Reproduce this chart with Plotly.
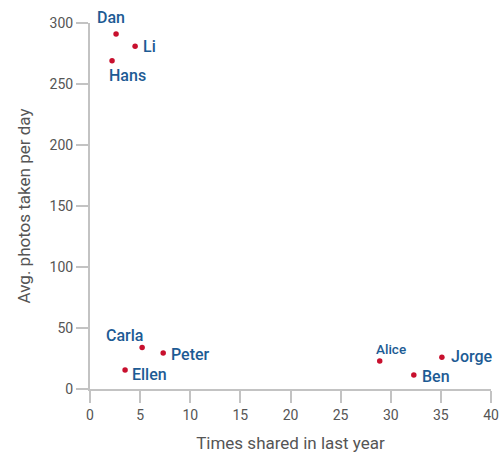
import plotly.graph_objects as go

names = ["Dan", "Li", "Hans", "Carla", "Peter", "Ellen", "Alice", "Jorge", "Ben"]
shared = [2.6, 4.5, 2.2, 5.2, 7.3, 3.5, 28.9, 35.1, 32.3]
photos = [291, 281, 269, 34, 29.5, 15.6, 23, 26, 11.5]
x_ticks = [0, 5, 10, 15, 20, 25, 30, 35, 40]
y_ticks = [0, 50, 100, 150, 200, 250, 300]

# label placement (pixel offsets, anchor, size)
label_pos = {
    "Dan": dict(xanchor="center", yanchor="middle", xshift=-5, yshift=16, size=16),
    "Li": dict(xanchor="left", yanchor="middle", xshift=6, yshift=0, size=16),
    "Hans": dict(xanchor="center", yanchor="middle", xshift=15, yshift=-15, size=16),
    "Carla": dict(xanchor="center", yanchor="middle", xshift=-18, yshift=12, size=16),
    "Peter": dict(xanchor="left", yanchor="middle", xshift=6, yshift=-1, size=16),
    "Ellen": dict(xanchor="left", yanchor="middle", xshift=5, yshift=-5, size=16),
    "Alice": dict(xanchor="center", yanchor="middle", xshift=11, yshift=12, size=13.5),
    "Jorge": dict(xanchor="left", yanchor="middle", xshift=7, yshift=1, size=16),
    "Ben": dict(xanchor="left", yanchor="middle", xshift=6, yshift=-2, size=16),
}

label_color = "#1d5b94"
dot_color = "#c8102e"
axis_color = "#c3c3c3"
tick_font_color = "#555555"
FONT = "Roboto"

fig = go.Figure()
fig.add_trace(go.Scatter(
    x=shared, y=photos, mode="markers",
    marker=dict(color=dot_color, size=5.5),
    cliponaxis=False, hoverinfo="text", text=names,
))

for n, x, y in zip(names, shared, photos):
    p = label_pos[n]
    fig.add_annotation(
        x=x, y=y, text=n, showarrow=False,
        xanchor=p["xanchor"], yanchor=p["yanchor"],
        xshift=p["xshift"], yshift=p["yshift"],
        font=dict(family=FONT, size=p["size"], color=label_color, weight=500),
    )

axis_common = dict(
    showline=True, linecolor=axis_color, linewidth=2,
    ticks="outside", tickcolor=axis_color, tickwidth=2, ticklen=12,
    showgrid=False, zeroline=False, automargin=False,
    tickfont=dict(family=FONT, size=14, color=tick_font_color),
)

fig.update_xaxes(
    range=[0, 40], tickvals=x_ticks,
    title=dict(text="Times shared in last year",
               font=dict(family=FONT, size=17, color=tick_font_color)),
    **axis_common,
)
fig.update_yaxes(
    range=[0, 300], tickvals=y_ticks,
    title=dict(text="Avg. photos taken per day",
               font=dict(family=FONT, size=17, color=tick_font_color)),
    **axis_common,
)

fig.update_layout(
    width=502, height=454,
    margin=dict(l=90, r=11, t=23, b=65),
    plot_bgcolor="white", paper_bgcolor="white",
    showlegend=False,
)

# remove the browser's default 8px body margin so the figure fills the window
fig.write_html(
    "out.html",
    config={"displayModeBar": False},
    post_script="document.body.style.margin='0';document.body.style.overflow='hidden';",
)
